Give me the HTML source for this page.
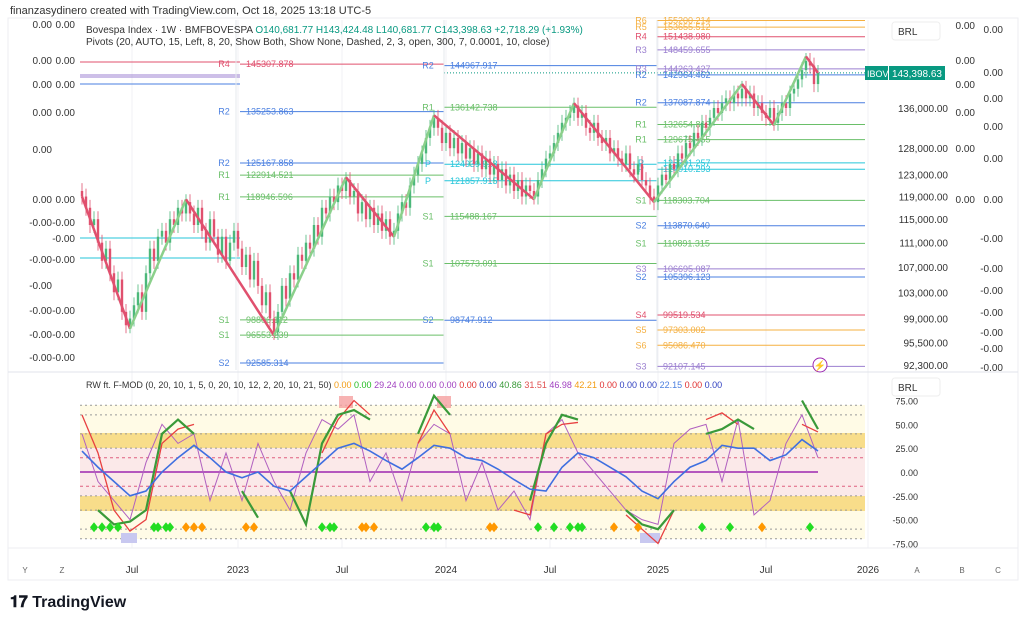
<!DOCTYPE html>
<html><head><meta charset="utf-8"><style>
body{margin:0;background:#fff;}
svg{display:block;font-family:"Liberation Sans",sans-serif;}
</style></head><body>
<svg id="c" width="1024" height="622" viewBox="0 0 1024 622" xmlns="http://www.w3.org/2000/svg">
<text x="10" y="14" font-size="11" fill="#333">finanzasydinero created with TradingView.com, Oct 18, 2025 13:18 UTC-5</text>
<rect x="8" y="18" width="1010" height="562" fill="#fff" stroke="#eceef2"/>
<g id="grid"></g>
<rect x="80" y="405" width="785" height="134" fill="#fffbe6"/>
<rect x="80" y="433" width="785" height="15" fill="#f8dd8a"/>
<rect x="80" y="496" width="785" height="15" fill="#f8dd8a"/>
<rect x="80" y="448" width="785" height="48" fill="#fbe9e9"/>
<g id="pivots"></g>
<g id="candles"></g>
<g id="zig"></g>
<g id="osc"></g>
<g id="axes"></g>
<text x="86" y="33" font-size="10" fill="#333">Bovespa Index · 1W · BMFBOVESPA  <tspan fill="#089981">O140,681.77 H143,424.48 L140,681.77 C143,398.63 +2,718.29 (+1.93%)</tspan></text>
<text x="86" y="45" font-size="10" fill="#333">Pivots (20, AUTO, 15, Left, 8, 20, Show Both, Show None, Dashed, 2, 3, open, 300, 7, 0.0001, 10, close)</text>
<text x="86" y="388" font-size="9" fill="#333">RW ft. F-MOD (0, 20, 10, 1, 5, 0, 20, 10, 12, 2, 20, 10, 21, 50) <tspan fill="#f39c12">0.00</tspan> <tspan fill="#22bb22">0.00</tspan> <tspan fill="#a040c0">29.24</tspan> <tspan fill="#a040c0">0.00 0.00 0.00</tspan> <tspan fill="#e03030">0.00</tspan> <tspan fill="#3040c0">0.00</tspan> <tspan fill="#3a9a3a">40.86</tspan> <tspan fill="#e05050">31.51</tspan> <tspan fill="#a040c0">46.98</tspan> <tspan fill="#f39c12">42.21</tspan> <tspan fill="#e03030">0.00</tspan> <tspan fill="#3040c0">0.00 0.00</tspan> <tspan fill="#4a7fe0">22.15</tspan> <tspan fill="#e03030">0.00</tspan> <tspan fill="#3040c0">0.00</tspan></text>
<rect x="892" y="22" width="48" height="18" rx="3" fill="#fff" stroke="#eee"/>
<text x="898" y="35" font-size="10" fill="#333">BRL</text>
<rect x="892" y="378" width="48" height="18" rx="3" fill="#fff" stroke="#eee"/>
<text x="898" y="391" font-size="10" fill="#333">BRL</text>
<rect x="865" y="66" width="23" height="14" fill="#089981"/>
<text x="867" y="77" font-size="9" fill="#fff">IBOV</text>
<rect x="889" y="66" width="56" height="14" fill="#089981"/>
<text x="942" y="77" font-size="10" fill="#fff" text-anchor="end">143,398.63</text>
<circle cx="820" cy="365" r="7" fill="#fff" stroke="#9c27b0"/>
<text x="820" y="369" font-size="10" fill="#9c27b0" text-anchor="middle">⚡</text>
<text x="10" y="607" font-size="16" font-weight="bold" fill="#131722">𝟏𝟕 TradingView</text>
</svg>
<script>
const NS="http://www.w3.org/2000/svg";
// price data (thousands BRL), weekly closes from Apr 2022
const closes=[119,117,114,115,111,108,110,106,103,105,100,98,99,
101,103,100,106,110,108,112,113,111,115,114,117,116,118,
116,114,117,113,111,115,112,109,112,108,111,113,110,107,109,105,108,104,101,103,99,97,
100,104,102,106,105,109,108,111,110,114,112,117,116,119,118,121,120,122,
119,120,116,118,115,117,114,116,113,115,112,113,
116,118,117,121,123,125,127,130,132,134,
132,129,131,128,130,127,129,126,128,125,127,124,126,123,125,122,124,121,123,120,122,119,121,120,119,
122,124,126,127,129,131,133,134,135,136.5,
134,135,132,131,133,130,129,130,127,128,126,125,127,124,123,125,122,121,119,118,
121,123,122,125,124,127,126,129,128,131,130,133,132,134,136,135,137,138,137,139,138,140,
138,139,136,137,135,134,136,133,
135,137,136,139,140,142,144,146,
145,141,143.4];
const zigIdx=[0,12,26,48,66,78,88,113,123,143,165,173,181,184];
const zigVals=[119,97.5,118.5,96.5,122.5,112,134.5,118.5,137,118,141,132.5,147,143.4];
const priceTicks=[136,128,123,119,115,111,107,103,99,95.5,92.3];
const timeLabels=["Jul","2023","Jul","2024","Jul","2025","Jul","2026"];
const timeWeeks=[12.5,39,65,91,117,144,171,196.5];
// pivot levels (thousands)
const pivotPrices=[145.307878,135.253863,125.167858,122.914521,118.946596,98.806112,96.553239,92.585314,
144.967917,136.142738,124.939918,121.857915,115.488167,107.573091,98.747912,
155.200214,153.655512,151.438980,148.459655,144.263427,142.964462,137.087874,132.654810,129.675455,125.201257,124.010293,118.303704,113.870640,110.891315,106.695087,105.396123,99.519534,97.303002,95.086470,92.107145];
const pivotLabels=["R4","R2","R2","R1","R1","S1","S1","S2","R2","R1","P","P","S1","S1","S2","R6","R5","R4","R3","R3","R2","R2","R1","R1","P","P","S1","S2","S1","S3","S2","S4","S5","S6","S3"];
// oscillator (every 4 weeks)
const oscBlue=[22,5,-10,-25,-20,0,15,28,15,0,-6,0,-15,-20,-5,10,25,30,22,12,3,15,28,25,15,12,3,-8,-18,-20,5,20,15,5,-5,-20,-28,-10,5,12,28,25,25,12,18,34,22];
const oscGreen=[null,-40,-55,-52,-40,40,55,40,null,null,-20,-48,null,-20,-55,30,60,65,55,null,null,40,80,60,null,null,null,null,-30,30,60,55,null,null,-40,-55,-60,-40,null,40,45,55,45,null,null,75,45];
const oscRed=[60,20,-40,-62,-50,30,45,50,null,null,null,null,null,null,null,20,55,75,60,null,null,30,65,40,null,null,null,-40,-45,40,50,52,null,null,-45,-60,-75,-40,null,55,62,50,null,null,null,50,42];
const oscPurple=[40,-10,-30,-50,10,50,30,40,-30,20,-30,30,-10,-40,20,55,45,60,-10,20,-30,30,50,40,-30,10,-40,-20,-50,40,55,20,0,-20,-40,-50,-55,30,45,50,-10,55,-45,-30,30,60,15];
const greenDiamonds=[3,5,7,9,18,19,21,22,60,62,63,86,88,89,114,118,122,124,125,155,162,182];
const orangeDiamonds=[26,28,30,41,43,70,71,73,102,103,133,139,170];
const oscTicks=[75,50,25,0,-25,-50,-75];

const xW=w=>80+4*w+2;
const yP=v=>108+(Math.log(136)-Math.log(v))*663;
const yO=v=>472-v*0.953;
function el(t,a,p){const e=document.createElementNS(NS,t);for(const k in a)e.setAttribute(k,a[k]);p.appendChild(e);return e;}
const grid=document.getElementById('grid'),piv=document.getElementById('pivots'),cg=document.getElementById('candles'),zg=document.getElementById('zig'),og=document.getElementById('osc'),ax=document.getElementById('axes');
const fmt=v=>v.toLocaleString('en-US',{minimumFractionDigits:2,maximumFractionDigits:2});

timeWeeks.forEach((w,i)=>{
  const g=el('line',{x1:xW(w),x2:xW(w),y1:20,y2:548,stroke:'#f0f2f5'},grid);
  
  
  const t=el('text',{x:xW(w),y:573,'font-size':10,fill:'#333','text-anchor':'middle'},ax);
  t.textContent=timeLabels[i];
  
  
});
[[25,'Y'],[62,'Z'],[917,'A'],[962,'B'],[998,'C']].forEach(([x,s])=>{const t=el('text',{x:x,y:573,'font-size':8,fill:'#666','text-anchor':'middle'},ax);t.textContent=s;

});
el('line',{x1:8,x2:1018,y1:372,y2:372,stroke:'#e0e3eb'},ax);
el('line',{x1:8,x2:1018,y1:548,y2:548,stroke:'#eceef2'},ax);
priceTicks.forEach(v=>{const t=el('text',{x:948,y:yP(v)+4,'font-size':10,fill:'#333','text-anchor':'end'},ax);t.textContent=fmt(v*1000);

});
oscTicks.forEach(v=>{const t=el('text',{x:918,y:yO(v)+4,'font-size':9,fill:'#333','text-anchor':'end'},ax);t.textContent=v.toFixed(2);

});
[[52,28],[52,64],[52,88],[52,116],[52,153],[52,203],[52,226],[52,263],[52,289],[52,314],[52,338],[52,361],[75,28],[75,64],[75,88],[75,116],[75,203],[75,226],[75,242],[75,263],[75,314],[75,338],[75,361]].forEach(([x,y])=>{const t=el('text',{x:x,y:y,'font-size':10,fill:'#333','text-anchor':'end'},ax);t.textContent=y>215?'-0.00':'0.00';

});
[[975,29],[975,64],[975,88],[975,116],[975,152],[975,203],[1003,33],[1003,76],[1003,102],[1003,130],[1003,162],[1003,203],[1003,242],[1003,272],[1003,294],[1003,316],[1003,336],[1003,352],[1003,371]].forEach(([x,y])=>{const t=el('text',{x:x,y:y,'font-size':10,fill:'#333','text-anchor':'end'},ax);t.textContent=y>215?'-0.00':'0.00';

});
const colorFor=l=>l[0]==='R'?(l==='R6'||l==='R5'?'#f5b041':l==='R4'?'#e0506e':l==='R3'?'#9b7fd0':l==='R2'?'#4a7fe0':'#6abf69'):l==='P'?'#26c6da':(l==='S1'?'#6abf69':l==='S2'?'#4a7fe0':l==='S3'?'#9b7fd0':l==='S4'?'#e0506e':'#f5b041');
pivotPrices.forEach((p,i)=>{
  const blk=i<8?0:i<15?1:2;
  const x0=[240,444,657][blk],x1=[444,657,865][blk];
  const y=yP(p),c=colorFor(pivotLabels[i]);
  const l=el('line',{x1:x0,x2:x1,y1:y,y2:y,stroke:c,'stroke-width':1},piv);
  
  
  const a=el('text',{x:x0-16,y:y+3,'font-size':9,fill:c,'text-anchor':'middle'},piv);a.textContent=pivotLabels[i];
  const b=el('text',{x:x0+6,y:y+3,'font-size':9,fill:c},piv);b.textContent=(p*1000).toFixed(3);
});
[[62,'#e0506e'],[75,'#9b7fd0'],[77,'#9b7fd0'],[84,'#4a7fe0'],[238,'#26c6da'],[258,'#26c6da']].forEach(([y,c])=>el('line',{x1:80,x2:240,y1:y,y2:y,stroke:c},piv));
el('line',{x1:444,x2:865,y1:yP(143.4),y2:yP(143.4),stroke:'#089981','stroke-dasharray':'1 2'},piv);
[236,444,657].forEach(x=>el('line',{x1:x,x2:x,y1:20,y2:370,stroke:'#e6e8ee'},piv));
closes.forEach((c,i)=>{
  const o=i?closes[i-1]:c+1;
  const up=c>=o,col=up?'#4cb87a':'#e0506e';
  const hi=Math.max(o,c)*1.012,lo=Math.min(o,c)*0.988,x=xW(i);
  const w=el('line',{x1:x,x2:x,y1:yP(hi),y2:yP(lo),stroke:col,'stroke-width':0.8},cg);
  
  
  const r=el('rect',{x:x-1.2,y:yP(Math.max(o,c)),width:2.4,height:Math.max(1,yP(Math.min(o,c))-yP(Math.max(o,c))),fill:col},cg);
  
  
});
for(let i=0;i<zigIdx.length-1;i++){
  const up=zigVals[i+1]>zigVals[i];
  const l=el('line',{x1:xW(zigIdx[i]),y1:yP(zigVals[i]),x2:xW(zigIdx[i+1]),y2:yP(zigVals[i+1]),stroke:up?'#8bd08b':'#e0506e','stroke-width':2.5},zg);
  
  
}
[70,60,40,25,-25,-40,-60,-70].forEach(v=>el('line',{x1:80,x2:865,y1:yO(v),y2:yO(v),stroke:'#999','stroke-dasharray':'2 3'},og));
[15,-15].forEach(v=>el('line',{x1:80,x2:865,y1:yO(v),y2:yO(v),stroke:'#e06080','stroke-dasharray':'3 3'},og));
el('rect',{x:339,y:396,width:14,height:12,fill:'#f5a0a0',opacity:.8},og);
el('rect',{x:437,y:396,width:14,height:12,fill:'#f5a0a0',opacity:.8},og);
el('rect',{x:121,y:533,width:16,height:10,fill:'#c8c8f0'},og);
el('rect',{x:640,y:533,width:20,height:10,fill:'#c8c8f0'},og);
el('line',{x1:80,x2:818,y1:yO(0),y2:yO(0),stroke:'#9c27b0','stroke-width':1.5},og);
function series(arr,col,w,name){
  let d='',pen=false;
  arr.forEach((v,i)=>{if(v===null){pen=false;return;}d+=(pen?'L':'M')+xW(i*4)+' '+yO(v)+' ';pen=true;});
  const p=el('path',{d:d,fill:'none',stroke:col,'stroke-width':w},og);
  
  
}
series(oscPurple,'#b060c0',1,'osc-purple-line');
series(oscRed,'#e84040',1.3,'osc-red-line');
series(oscGreen,'#3a9a3a',2.2,'osc-green-line');
series(oscBlue,'#3f6fe0',1.6,'osc-blue-line');
function diamonds(arr,col,name){arr.forEach(w=>{const x=xW(w),y=yO(-58);
  const d=el('polygon',{points:`${x},${y-5} ${x+4},${y} ${x},${y+5} ${x-4},${y}`,fill:col},og);
  
  });}
diamonds(greenDiamonds,'#22dd22','green-signal');
diamonds(orangeDiamonds,'#ff9800','orange-signal');
</script>
</body></html>
